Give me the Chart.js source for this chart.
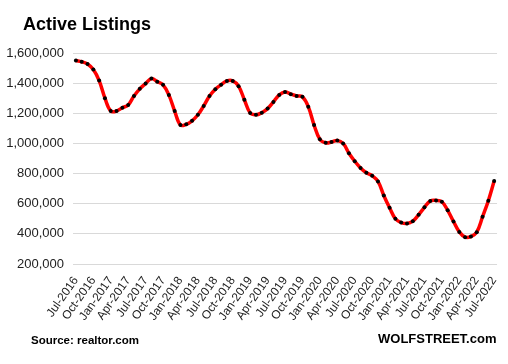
<!DOCTYPE html>
<html>
<head>
<meta charset="utf-8">
<script src="https://cdn.jsdelivr.net/npm/chart.js@4"></script>
<style>
  html, body { margin: 0; padding: 0; background: #fff; }
  #wrap { position: relative; width: 508px; height: 364px; overflow: hidden; }
  canvas { position: absolute; left: 0; top: 0; }
  .txt { position: absolute; font-family: "Liberation Sans", Arial, sans-serif; font-weight: bold; color: #000; white-space: nowrap; line-height: 1; }
  #title { left: 23px; top: 15px; font-size: 18px; }
  #source { left: 31px; top: 335px; font-size: 11.5px; }
  #brand { left: 378px; top: 332px; font-size: 13px; }
</style>
</head>
<body>
<div id="wrap">
  <canvas id="c" width="508" height="364"></canvas>
  <div class="txt" id="title">Active Listings</div>
  <div class="txt" id="source">Source: realtor.com</div>
  <div class="txt" id="brand">WOLFSTREET.com</div>
</div>
<script>
const months = ["Jan","Feb","Mar","Apr","May","Jun","Jul","Aug","Sep","Oct","Nov","Dec"];
// Monthly categories Jul-2016 .. Jul-2022
const categories = [
  "Jul-2016","Aug-2016","Sep-2016","Oct-2016","Nov-2016","Dec-2016",
  "Jan-2017","Feb-2017","Mar-2017","Apr-2017","May-2017","Jun-2017","Jul-2017","Aug-2017","Sep-2017","Oct-2017","Nov-2017","Dec-2017",
  "Jan-2018","Feb-2018","Mar-2018","Apr-2018","May-2018","Jun-2018","Jul-2018","Aug-2018","Sep-2018","Oct-2018","Nov-2018","Dec-2018",
  "Jan-2019","Feb-2019","Mar-2019","Apr-2019","May-2019","Jun-2019","Jul-2019","Aug-2019","Sep-2019","Oct-2019","Nov-2019","Dec-2019",
  "Jan-2020","Feb-2020","Mar-2020","Apr-2020","May-2020","Jun-2020","Jul-2020","Aug-2020","Sep-2020","Oct-2020","Nov-2020","Dec-2020",
  "Jan-2021","Feb-2021","Mar-2021","Apr-2021","May-2021","Jun-2021","Jul-2021","Aug-2021","Sep-2021","Oct-2021","Nov-2021","Dec-2021",
  "Jan-2022","Feb-2022","Mar-2022","Apr-2022","May-2022","Jun-2022","Jul-2022"
];
// Active listings
const activeListings = [
  1550000,1542000,1527000,1490000,1417000,1300000,
  1215000,1215000,1237000,1255000,1315000,1362000,1397000,1430000,1410000,1389000,1322000,1215000,
  1122000,1127000,1150000,1190000,1249000,1315000,1360000,1390000,1415000,1415000,1380000,1290000,
  1202000,1190000,1204000,1231000,1275000,1322000,1342000,1327000,1315000,1309000,1244000,1122000,
  1027000,1004000,1009000,1020000,1000000,935000,882000,837000,805000,786000,748000,655000,
  573000,500000,475000,469000,484000,527000,576000,618000,622000,613000,556000,482000,
  413000,378000,382000,411000,513000,620000,750000
];
// Shown x tick labels (every third month)
const xTickLabels = categories.filter((c, i) => i % 3 === 0);
// Y axis ticks
const yMin = 200000, yMax = 1600000, yStep = 200000;

new Chart(document.getElementById('c'), {
  type: 'line',
  data: {
    labels: categories,
    datasets: [{
      label: 'Active Listings',
      data: activeListings,
      borderColor: '#ff0000',
      borderWidth: 3.5,
      tension: 0.4,
      pointRadius: 2,
      pointBackgroundColor: '#000',
      pointBorderColor: '#000',
      pointBorderWidth: 0,
      fill: false
    }]
  },
  options: {
    responsive: false,
    animation: false,
    devicePixelRatio: 1,
    layout: { padding: { top: 53, right: 7, left: 0, bottom: 0 } },
    plugins: { legend: { display: false }, tooltip: { enabled: false }, title: { display: false } },
    scales: {
      x: {
        offset: true,
        grid: { display: false },
        border: { display: false },
        afterFit: s => { s.height = 100; },
        ticks: {
          autoSkip: false,
          minRotation: 55,
          maxRotation: 55,
          padding: 2,
          color: '#222',
          font: { family: '"Liberation Sans", Arial, sans-serif', size: 12 },
          callback: function(v, i) { const l = categories[i]; return xTickLabels.includes(l) ? l : ''; }
        }
      },
      y: {
        min: yMin, max: yMax,
        grid: { color: '#d9d9d9', lineWidth: 1, drawTicks: false },
        border: { display: false },
        afterFit: s => { s.width = 73; },
        ticks: {
          stepSize: yStep,
          padding: 9,
          color: '#222',
          font: { family: '"Liberation Sans", Arial, sans-serif', size: 13 },
          callback: v => v.toLocaleString('en-US')
        }
      }
    }
  }
});
</script>
</body>
</html>
